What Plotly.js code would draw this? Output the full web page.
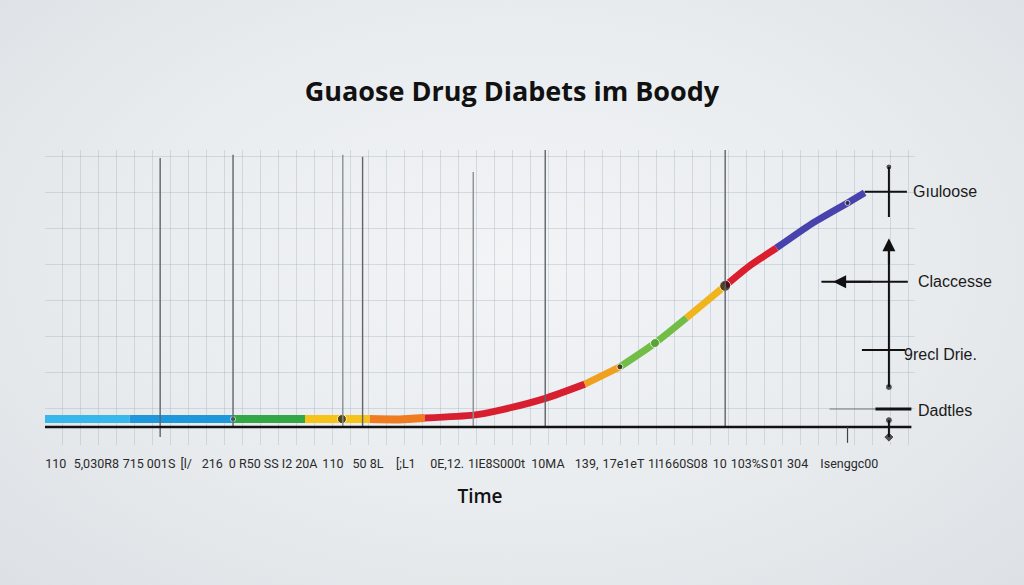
<!DOCTYPE html>
<html>
<head>
<meta charset="utf-8">
<script src="https://cdn.plot.ly/plotly-3.0.1.min.js"></script>
<style>
  html, body { margin: 0; padding: 0; }
  body {
    width: 1024px; height: 585px; overflow: hidden;
    background: radial-gradient(ellipse at 50% 45%, #f2f4f6 0%, #e9ecef 55%, #dde0e4 100%);
  }
  #graph { width: 1024px; height: 585px; }
</style>
</head>
<body>
<div id="graph"></div>
<script>
// curve (time units, level units)
var curveTime  = [0, 9.4, 20.9, 28.9, 36.1, 39.4, 42.2, 47.6, 50.6, 55.8, 60.0, 63.9, 67.8, 71.3, 75.6, 78.3, 81.3, 85.2, 89.2, 91.1];
var curveLevel = [2.2, 2.2, 2.2, 2.2, 2.2, 2.1, 2.5, 3.3, 4.7, 8.1, 11.9, 16.7, 23.3, 30.3, 39.2, 44.7, 49.7, 56.4, 62.2, 65.0];

// coloured pieces of the curve: [first index, last index]
var segStart  = [0, 1, 2, 3, 4, 6, 10, 11, 13, 14, 16];
var segEnd    = [1, 2, 3, 4, 6, 10, 11, 13, 14, 16, 19];
var segColors = ['#38b7ea', '#1e98da', '#33a646', '#f5c319', '#f07c22', '#d81f30',
                 '#f0a01f', '#72bd45', '#f0b41c', '#db1e2e', '#4842ad'];

// black dots on the curve
var dotTime  = [20.9, 33.0, 63.9, 67.8, 75.6, 89.2];
var dotLevel = [2.2, 2.2, 16.7, 23.3, 39.2, 62.2];

// darker vertical lines
var majorTime = [12.8, 20.9, 33.1, 35.3, 47.6, 55.6, 75.6];
var majorTop  = [74.7, 75.6, 75.6, 75.0, 70.8, 76.9, 76.9];

// tick labels (as printed)
var tickTimes = [1.2, 5.7, 9.8, 12.9, 15.7, 18.6, 23.2, 28.3, 32.0, 35.9, 40.1, 44.7, 50.2,
                 55.9, 60.2, 64.3, 67.6, 70.9, 75.0, 78.3, 82.7, 89.4];
var tickLabels = ['110', '5,030R8', '715', '001S', '[l/', '216', '0 R50 SS', 'I2 20A', '110',
                  '50 8L', '[;L1', '0E,12.', '1IE8S000t', '10MA', '139,', '17e1eT', '1I',
                  '1660S08', '10', '103%S', '01 304', 'Isenggc00'];

// labels on the right
var sideLabels = ['Gıuloose', 'Claccesse', '9recl Drie.', 'Dadtles'];
var sideLevels = [65.3, 40.3, 20.0, 4.7];

var data = [];
for (var s = 0; s < segStart.length; s++) {
    var xs = curveTime.slice(segStart[s], segEnd[s] + 1);
    var ys = curveLevel.slice(segStart[s], segEnd[s] + 1);
    data.push({
        x: xs, y: ys,
        mode: 'lines',
        line: { color: segColors[s], width: s < 5 ? 8 : 7, shape: 'spline', smoothing: 0.6 },
        hoverinfo: 'skip',
        showlegend: false
    });
}
data.push({
    x: dotTime, y: dotLevel,
    mode: 'markers',
    marker: { color: ['#1a1a1a', '#111', '#111', '#4f9a33', '#111', '#222'], size: [5, 9, 6, 9, 11, 5] },
    hoverinfo: 'skip',
    showlegend: false
});
// little markers at the right bracket
data.push({
    x: [93.8, 93.8, 93.8, 93.8],
    y: [72.2, 11.1, 1.9, -2.8],
    mode: 'markers',
    marker: { color: '#111', size: [6, 7, 7, 8], symbol: ['circle', 'circle', 'circle', 'diamond'] },
    hoverinfo: 'skip',
    showlegend: false
});

var shapes = [];
for (var i = 0; i < majorTime.length; i++) {
    shapes.push({
        type: 'line', xref: 'x', yref: 'y',
        x0: majorTime[i], x1: majorTime[i], y0: i === 0 ? -2.8 : 0, y1: majorTop[i],
        line: { color: (i === 2 || i === 4) ? '#8a8f95' : '#5f646a', width: 1.4 }
    });
}
var blk = { color: '#111', width: 2 };
shapes.push(
    // baseline
    { type: 'line', xref: 'x', yref: 'y', x0: 0, x1: 96.3, y0: 0, y1: 0, line: { color: '#111', width: 2.6 } },
    // right bracket lines
    { type: 'line', xref: 'x', yref: 'y', x0: 91.1, x1: 95.8, y0: 65.3, y1: 65.3, line: blk },
    { type: 'line', xref: 'x', yref: 'y', x0: 93.8, x1: 93.8, y0: 72.2, y1: 58.3, line: blk },
    { type: 'line', xref: 'x', yref: 'y', x0: 93.8, x1: 93.8, y0: 51.0, y1: 11.1, line: blk },
    { type: 'line', xref: 'x', yref: 'y', x0: 86.3, x1: 95.9, y0: 40.3, y1: 40.3, line: blk },
    { type: 'line', xref: 'x', yref: 'y', x0: 90.8, x1: 95.6, y0: 21.4, y1: 21.4, line: blk },
    { type: 'line', xref: 'x', yref: 'y', x0: 87.2, x1: 92.3, y0: 5.0, y1: 5.0, line: { color: '#777', width: 1.2 } },
    { type: 'line', xref: 'x', yref: 'y', x0: 92.3, x1: 96.3, y0: 5.0, y1: 5.0, line: { color: '#111', width: 3 } },
    { type: 'line', xref: 'x', yref: 'y', x0: 93.8, x1: 93.8, y0: 1.9, y1: -2.8, line: blk },
    { type: 'line', xref: 'x', yref: 'y', x0: 89.2, x1: 89.2, y0: 0, y1: -4.4, line: { color: '#444', width: 1.2 } }
);

var annotations = [];
for (var k = 0; k < sideLabels.length; k++) {
    annotations.push({
        text: sideLabels[k], xref: 'paper', yref: 'y',
        x: k === 0 ? 0.995 : (k === 2 ? 0.985 : 1.0015), y: sideLevels[k],
        xanchor: 'left', yanchor: 'middle', showarrow: false,
        font: { family: 'Liberation Sans, Arial, sans-serif', size: 16, color: '#1a1a1a' }
    });
}
// arrows
annotations.push(
    { x: 93.8, y: 52.4, ax: 93.8, ay: 45, xref: 'x', yref: 'y', axref: 'x', ayref: 'y',
      text: '', showarrow: true, arrowhead: 2, arrowsize: 1.3, arrowwidth: 2, arrowcolor: '#111' },
    { x: 87.6, y: 40.3, ax: 92, ay: 40.3, xref: 'x', yref: 'y', axref: 'x', ayref: 'y',
      text: '', showarrow: true, arrowhead: 2, arrowsize: 1.3, arrowwidth: 2, arrowcolor: '#111' }
);

var gridColor = 'rgba(150,165,182,0.32)';
var layout = {
    width: 1024,
    height: 585,
    margin: { l: 45, r: 109, t: 150, b: 140 },
    paper_bgcolor: 'rgba(0,0,0,0)',
    plot_bgcolor: 'rgba(0,0,0,0)',
    title: {
        text: 'Guaose Drug Diabets im Boody',
        xref: 'container', yref: 'container', x: 0.5, y: 1 - 92 / 585,
        xanchor: 'center', yanchor: 'middle',
        font: { family: 'Open Sans, sans-serif', size: 27, color: '#111', weight: 700 }
    },
    xaxis: {
        range: [0, 96.7],
        tickmode: 'array', tickvals: tickTimes, ticktext: tickLabels,
        tickangle: 0,
        ticks: '', showgrid: false, zeroline: false, showline: false,
        ticklabelstandoff: 9,
        tickfont: { family: 'Liberation Sans Narrow, Roboto, sans-serif', size: 12.5, color: '#2a2a2a' },
        minor: { dtick: 2, tick0: 0, showgrid: true, gridcolor: gridColor, gridwidth: 1, ticks: '' },
        title: { text: 'Time', standoff: 20, font: { family: 'Open Sans, sans-serif', size: 19, color: '#111', weight: 600 } },
        fixedrange: true
    },
    yaxis: {
        range: [-5, 76.9],
        showticklabels: false, ticks: '', showgrid: false, zeroline: false, showline: false,
        minor: { dtick: 5, tick0: 0, showgrid: true, gridcolor: gridColor, gridwidth: 1, ticks: '' },
        fixedrange: true
    },
    shapes: shapes,
    annotations: annotations
};

Plotly.newPlot('graph', data, layout, { displayModeBar: false, staticPlot: true });
</script>
</body>
</html>
